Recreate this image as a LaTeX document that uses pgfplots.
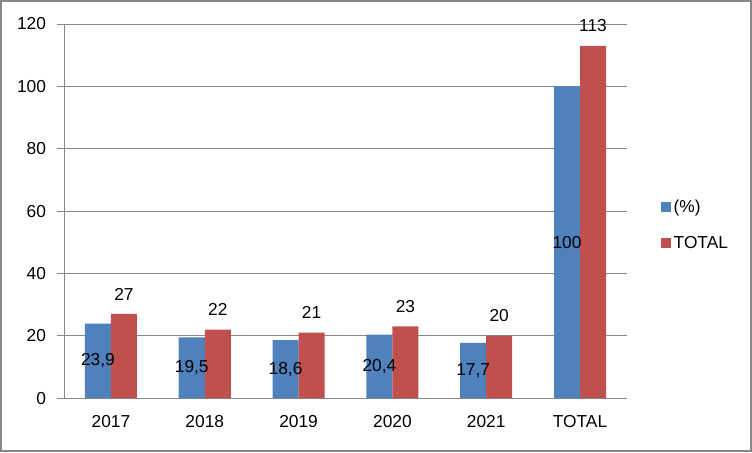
\documentclass[border=0pt]{standalone}
\usepackage{pgfplots}
\pgfplotsset{compat=1.18}
\usepackage{fontspec}
\setmainfont{Liberation Sans}
\definecolor{xblue}{HTML}{4F81BD}
\definecolor{xred}{HTML}{C0504D}
\definecolor{xgrid}{HTML}{868686}
\begin{document}
\begin{tikzpicture}
\begin{axis}[
  name=ax,
  at={(0,0)}, anchor=south west,
  scale only axis,
  width=422pt, height=280.5pt,
  ybar=0pt, bar width=19.5pt,
  xmin=-0.5, xmax=5.5,
  ymin=0, ymax=120,
  ytick={0,20,...,120},
  xtick={0,1,2,3,4,5},
  xticklabels={2017,2018,2019,2020,2021,TOTAL},
  major x tick style={draw=none},
  extra x ticks={-0.5,0.5,1.5,2.5,3.5,4.5,5.5},
  extra x tick labels={},
  extra x tick style={major tick length=5pt, tick style={draw=xgrid}, tick align=outside, grid=none},
  axis x line*=bottom, axis y line*=left,
  axis line style={draw=xgrid, line width=0.6pt},
  ymajorgrids, grid style={draw=xgrid, line width=0.6pt},
  y tick style={draw=xgrid, line width=0.6pt},
  tick align=outside, major tick length=5pt,
  every tick label/.append style={font=\fontsize{13}{15}\selectfont, text=black},
  yticklabel style={xshift=-5pt},
  xticklabel style={yshift=-4pt},
  /pgf/number format/assume math mode=true,
  legend style={draw=none, at={(1.053,0.4626)}, anchor=west, font=\fontsize{13}{15}\selectfont,
    row sep=12pt, fill=none},
  legend cell align=left,
  legend image code/.code={\fill[#1] (0pt,-3.6pt) rectangle (7.5pt,3.9pt);},
  nodes near coords={\pgfmathprintnumber[use comma,fixed,precision=1]{\pgfplotspointmeta}},
  every node near coord/.append style={font=\fontsize{13}{15}\selectfont, text=black},
  clip=false,
]
\addplot[fill=xblue, draw=none,
  visualization depends on={rawy \as \rawy},
  every node near coord/.append style={anchor=center, shift={(axis direction cs:0,-\rawy/2)}}]
  coordinates {(0,23.9) (1,19.5) (2,18.6) (3,20.4) (4,17.7) (5,100)};
\addlegendentry{(\%)}
\addplot[fill=xred, draw=none,
  every node near coord/.append style={anchor=center, yshift=15pt}]
  coordinates {(0,27) (1,22) (2,21) (3,23) (4,20) (5,113)};
\addlegendentry{TOTAL}
\end{axis}
\draw[xgrid, line width=1.5pt] ([shift={(-47.25pt,-39.75pt)}]ax.south west) rectangle ([shift={(93pt,17.25pt)}]ax.north east);
\end{tikzpicture}
\end{document}
